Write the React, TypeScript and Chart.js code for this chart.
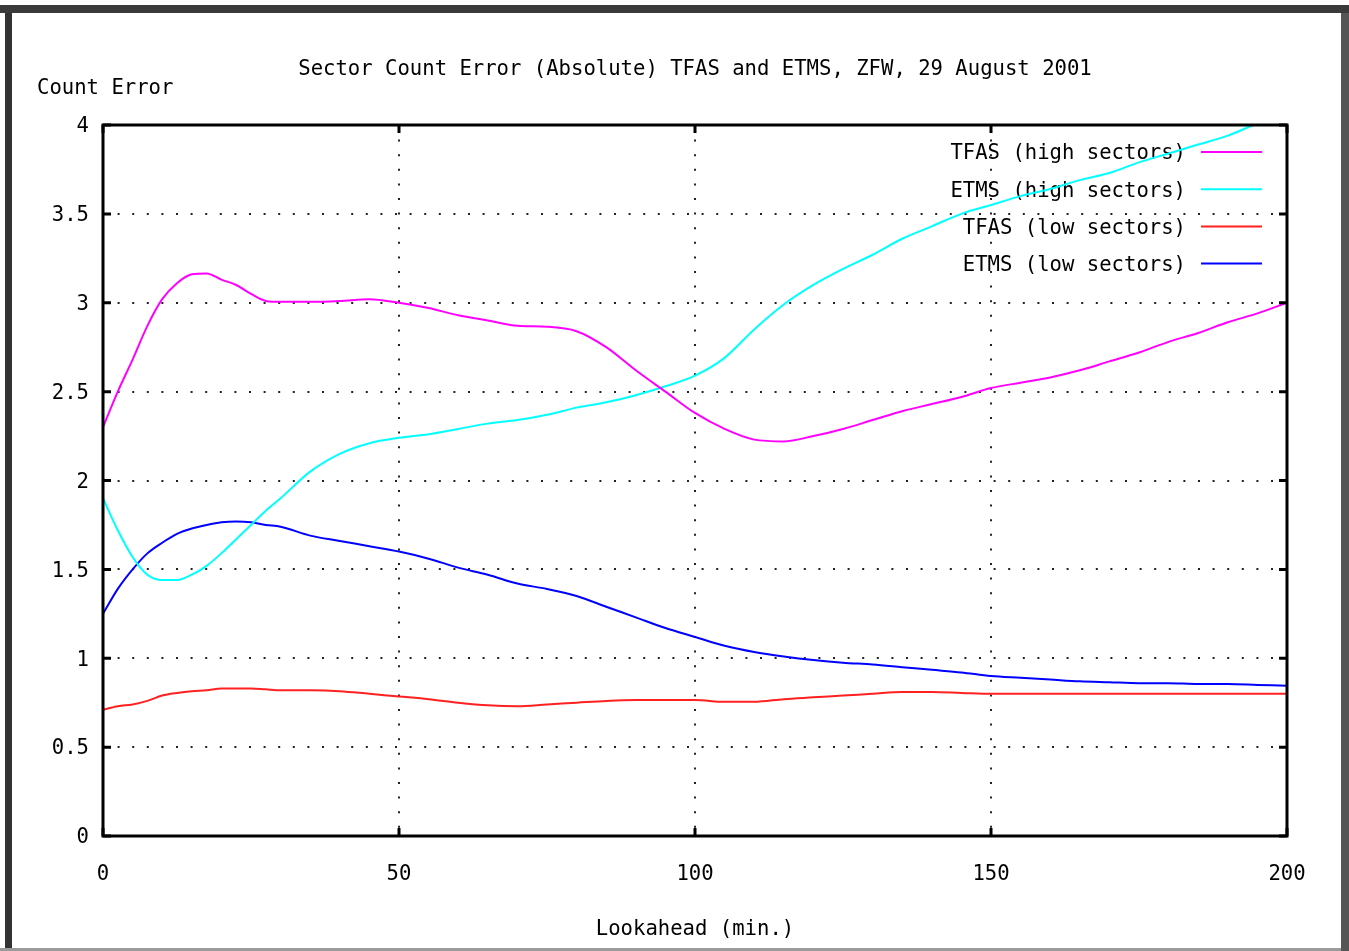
import React, { useEffect, useRef } from "react";
import { Chart, registerables } from "chart.js";

Chart.register(...registerables);

const TITLE = "Sector Count Error (Absolute) TFAS and ETMS, ZFW, 29 August 2001";
const Y_TITLE = "Count Error";
const X_TITLE = "Lookahead (min.)";

const lookahead = [
  0, 2.5, 5, 7.5, 10, 12.5, 15, 17.5, 20, 22.5, 25, 27.5, 30, 35, 40, 45, 50, 55, 60, 65, 70, 75, 80, 85, 90, 95,
  100, 105, 110, 115, 120, 125, 130, 135, 140, 145, 150, 155, 160, 165, 170, 175, 180, 185, 190, 195, 200,
];

const tfasHigh = [
  2.3, 2.5, 2.68, 2.87, 3.02, 3.11, 3.16, 3.165, 3.13, 3.1, 3.05, 3.01, 3.005, 3.005, 3.01, 3.02, 3.0, 2.97, 2.93,
  2.9, 2.87, 2.865, 2.84, 2.75, 2.62, 2.5, 2.38, 2.29, 2.23, 2.22, 2.25, 2.29, 2.34, 2.39, 2.43, 2.47, 2.52, 2.55,
  2.58, 2.62, 2.67, 2.72, 2.78, 2.83, 2.89, 2.94, 3.0,
];

const etmsHigh = [
  1.9, 1.72, 1.57, 1.47, 1.44, 1.44, 1.47, 1.52, 1.59, 1.67, 1.75, 1.83, 1.9, 2.05, 2.15, 2.21, 2.24, 2.26, 2.29,
  2.32, 2.34, 2.37, 2.41, 2.44, 2.48, 2.53, 2.59, 2.69, 2.85, 2.99, 3.1, 3.19, 3.27, 3.36, 3.43, 3.5, 3.55, 3.6,
  3.64, 3.69, 3.73, 3.79, 3.84, 3.89, 3.94, 4.01, 4.08,
];

const tfasLow = [
  0.71, 0.73, 0.74, 0.76, 0.79, 0.805, 0.815, 0.82, 0.83, 0.83, 0.83, 0.825, 0.82, 0.82, 0.815, 0.8, 0.785, 0.77,
  0.75, 0.735, 0.73, 0.74, 0.75, 0.76, 0.765, 0.765, 0.765, 0.755, 0.755, 0.77, 0.78, 0.79, 0.8, 0.81, 0.81, 0.805,
  0.8, 0.8, 0.8, 0.8, 0.8, 0.8, 0.8, 0.8, 0.8, 0.8, 0.8,
];

const etmsLow = [
  1.25, 1.39, 1.5, 1.59, 1.65, 1.7, 1.73, 1.75, 1.765, 1.77, 1.765, 1.75, 1.74, 1.69, 1.66, 1.63, 1.6, 1.56, 1.51,
  1.47, 1.42, 1.39, 1.35, 1.29, 1.23, 1.17, 1.12, 1.07, 1.035, 1.01, 0.99, 0.975, 0.965, 0.95, 0.935, 0.92, 0.9,
  0.89, 0.88, 0.87, 0.865, 0.86, 0.86, 0.855, 0.855, 0.85, 0.845,
];

const seriesNames = ["TFAS (high sectors)", "ETMS (high sectors)", "TFAS (low sectors)", "ETMS (low sectors)"];
const seriesColors = ["#ff00ff", "#00ffff", "#ff2020", "#0000ff"];
const seriesValues = [tfasHigh, etmsHigh, tfasLow, etmsLow];

const FONT = '"DejaVu Sans Mono", "Liberation Mono", monospace';
const FONT_SIZE = 20.6;

const framePlugin = {
  id: "frame",
  beforeDraw(chart: any) {
    const ctx = chart.ctx;
    ctx.save();
    ctx.fillStyle = "#ffffff";
    ctx.fillRect(0, 0, chart.width, chart.height);
    ctx.fillStyle = "#3a3a3a";
    ctx.fillRect(0, 5, chart.width, 8);
    ctx.fillStyle = "#333333";
    ctx.fillRect(5, 13, 7, 935);
    ctx.fillStyle = "#555555";
    ctx.fillRect(1341, 13, 8, 938);
    ctx.fillStyle = "#9a9a9a";
    ctx.fillRect(0, 948, 1341, 3);
    ctx.restore();
  },
};

const textPlugin = {
  id: "texts",
  beforeDatasetsDraw(chart: any) {
    const ctx = chart.ctx;
    const area = chart.chartArea;
    ctx.save();
    ctx.font = `${FONT_SIZE}px ${FONT}`;
    ctx.fillStyle = "#000";
    ctx.textBaseline = "middle";
    ctx.textAlign = "center";
    ctx.fillText(TITLE, (area.left + area.right) / 2, 70);
    ctx.fillText(X_TITLE, (area.left + area.right) / 2, 930);
    ctx.textAlign = "left";
    ctx.fillText(Y_TITLE, 37, 89);
    // legend
    chart.data.datasets.forEach((ds: any, i: number) => {
      const y = 152 + i * 37.2;
      ctx.textAlign = "right";
      ctx.fillStyle = "#000";
      ctx.fillText(ds.label, 1186, y + 2);
      ctx.strokeStyle = ds.borderColor;
      ctx.lineWidth = 2;
      ctx.beginPath();
      ctx.moveTo(1201, y);
      ctx.lineTo(1262, y);
      ctx.stroke();
    });
    ctx.restore();
  },
  afterDatasetsDraw(chart: any) {
    const ctx = chart.ctx;
    const { left, right, top, bottom } = chart.chartArea;
    const xs = chart.scales.x;
    const ys = chart.scales.y;
    ctx.save();
    ctx.strokeStyle = "#000";
    ctx.lineWidth = 3;
    ctx.strokeRect(left, top, right - left, bottom - top);
    const tl = 8;
    ctx.beginPath();
    xs.ticks.forEach((t: any) => {
      const px = xs.getPixelForValue(t.value);
      ctx.moveTo(px, bottom);
      ctx.lineTo(px, bottom - tl);
      ctx.moveTo(px, top);
      ctx.lineTo(px, top + tl);
    });
    ys.ticks.forEach((t: any) => {
      const py = ys.getPixelForValue(t.value);
      ctx.moveTo(left, py);
      ctx.lineTo(left + tl, py);
      ctx.moveTo(right, py);
      ctx.lineTo(right - tl, py);
    });
    ctx.stroke();
    ctx.restore();
  },
};

export default function App() {
  const ref = useRef<HTMLCanvasElement | null>(null);

  useEffect(() => {
    if (!ref.current) return;
    const chart = new Chart(ref.current, {
      type: "line",
      data: {
        datasets: seriesValues.map((vals, i) => ({
          label: seriesNames[i],
          data: lookahead.map((x, j) => ({ x, y: vals[j] })),
          borderColor: seriesColors[i],
          backgroundColor: seriesColors[i],
          borderWidth: 2,
          pointRadius: 0,
          cubicInterpolationMode: "monotone" as const,
          fill: false,
        })),
      },
      options: {
        animation: false,
        responsive: false,
        devicePixelRatio: 1,
        layout: { padding: { top: 125, right: 62, left: 0, bottom: 0 } },
        plugins: {
          legend: { display: false },
          title: { display: false },
          tooltip: { enabled: false },
        },
        scales: {
          x: {
            type: "linear",
            min: 0,
            max: 200,
            ticks: {
              stepSize: 50,
              color: "#000",
              padding: 26,
              font: { family: FONT, size: FONT_SIZE },
              maxRotation: 0,
            },
            grid: { color: "#222", lineWidth: 2, drawTicks: false },
            border: { display: false, dash: [2, 12.6] },
            afterFit: (s: any) => {
              s.height = 115;
            },
          },
          y: {
            type: "linear",
            min: 0,
            max: 4,
            ticks: {
              stepSize: 0.5,
              color: "#000",
              padding: 14,
              labelOffset: 2,
              font: { family: FONT, size: FONT_SIZE },
              callback: (v: any) => String(v),
            },
            grid: { color: "#222", lineWidth: 2, drawTicks: false },
            border: { display: false, dash: [2, 12.6] },
            afterFit: (s: any) => {
              s.width = 103;
            },
          },
        },
      },
      plugins: [framePlugin, textPlugin],
    });
    return () => chart.destroy();
  }, []);

  return (
    <div style={{ position: "absolute", left: 0, top: 0, width: 1349, height: 951 }}>
      <canvas ref={ref} width={1349} height={951} style={{ display: "block" }} />
    </div>
  );
}
